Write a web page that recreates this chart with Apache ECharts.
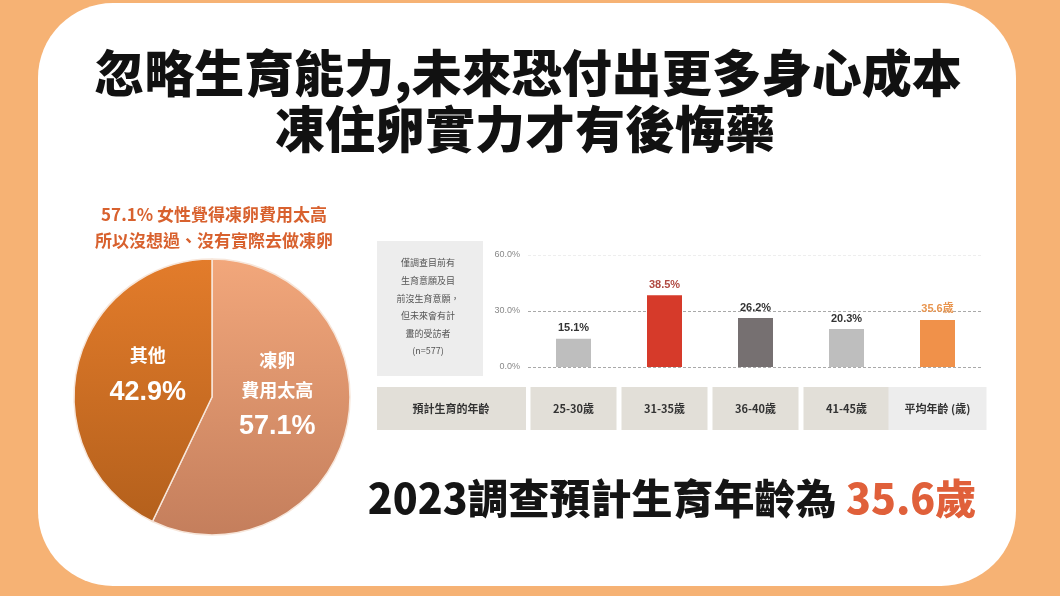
<!DOCTYPE html>
<html><head><meta charset="utf-8">
<script src="https://cdn.jsdelivr.net/npm/echarts@6/dist/echarts.min.js"></script>
<style>html,body{margin:0;padding:0;background:#F6B274;}#c{width:1060px;height:596px;}</style>
</head><body><div id="c"></div>
<script>
// ---- data ----
var pieNames = ['凍卵\n費用太高', '其他'];
var pieValues = [57.1, 42.9];
var barCategories = ['25-30歲', '31-35歲', '36-40歲', '41-45歲', '平均年齡 (歲)'];
var barValues = [15.1, 38.5, 26.2, 20.3, 25.2];
var barLabels = ['15.1%', '38.5%', '26.2%', '20.3%', '35.6歲'];
var yTicks = [0, 30, 60];
var noteLines = ['僅調查目前有', '生育意願及目', '前沒生育意願，', '但未來會有計', '畫的受訪者', '(n=577)'];

var barColors = ['#BEBEBE', '#D63A2A', '#767071', '#BEBEBE', '#F0914A'];
var barLabelColors = ['#333333', '#B04A42', '#333333', '#333333', '#E8954F'];
var CJK = '"Noto Sans CJK TC", "Noto Sans CJK SC", sans-serif';
var LAT = '"Liberation Sans", Arial, "Noto Sans CJK TC", sans-serif';

var chart = echarts.init(document.getElementById('c'));

function grad(c1, c2) {
  return new echarts.graphic.LinearGradient(0, 0, 0, 1, [{offset: 0, color: c1}, {offset: 1, color: c2}]);
}

var graphics = [
  {type: 'rect', z: -10, shape: {x: 38, y: 3, width: 978, height: 583, r: 75}, style: {fill: '#FFFFFF'}},
  {type: 'text', z: 5, style: {x: 528, y: 73, text: '忽略生育能力,未來恐付出更多身心成本', fill: '#111', font: '900 50px ' + CJK, textAlign: 'center', textVerticalAlign: 'middle'}},
  {type: 'text', z: 5, style: {x: 525, y: 129, text: '凍住卵實力才有後悔藥', fill: '#111', font: '900 50px ' + CJK, textAlign: 'center', textVerticalAlign: 'middle'}},
  {type: 'text', z: 5, style: {x: 214, y: 215, text: '57.1% 女性覺得凍卵費用太高', fill: '#D8612E', font: 'bold 17px ' + CJK, textAlign: 'center', textVerticalAlign: 'middle'}},
  {type: 'text', z: 5, style: {x: 214, y: 241, text: '所以沒想過、沒有實際去做凍卵', fill: '#D8612E', font: 'bold 17px ' + CJK, textAlign: 'center', textVerticalAlign: 'middle'}},
  {type: 'rect', z: 1, shape: {x: 377, y: 241, width: 106, height: 135}, style: {fill: '#EDEDED'}},
  {type: 'rect', z: 1, shape: {x: 377, y: 387, width: 149, height: 43}, style: {fill: '#E2DFD8'}},
  {type: 'text', z: 5, style: {x: 451, y: 409, text: '預計生育的年齡', fill: '#333', font: 'bold 11px ' + CJK, textAlign: 'center', textVerticalAlign: 'middle'}},
  {type: 'text', z: 5, style: {x: 672, y: 498, rich: {
      a: {fill: '#151515', font: '900 41px ' + CJK},
      b: {fill: '#E0603A', font: '900 41px ' + CJK}
    }, text: '{a|2023調查預計生育年齡為 }{b|35.6歲}', textAlign: 'center', textVerticalAlign: 'middle'}}
];
noteLines.forEach(function (t, i) {
  graphics.push({type: 'text', z: 5, style: {x: 428, y: 263 + i * 17.6, text: t, fill: '#555', font: '9px ' + CJK, textAlign: 'center', textVerticalAlign: 'middle'}});
});

var option = {
  backgroundColor: '#F6B274',
  animation: false,
  graphic: graphics,
  grid: {left: 528, right: 77, top: 255, bottom: 229, containLabel: false},
  xAxis: {
    type: 'category', data: barCategories,
    axisLine: {show: false}, axisTick: {show: false},
    axisLabel: {
      margin: 20, interval: 0,
      formatter: function (v, i) { return i === barCategories.length - 1 ? '{l|' + v + '}' : '{d|' + v + '}'; },
      rich: {
        d: {width: 86, height: 43, lineHeight: 43, align: 'center', backgroundColor: '#E2DFD8', color: '#333', fontSize: 11, fontWeight: 'bold', fontFamily: CJK},
        l: {width: 98, height: 43, lineHeight: 43, align: 'center', backgroundColor: '#EDEDED', color: '#333', fontSize: 11, fontWeight: 'bold', fontFamily: CJK}
      }
    }
  },
  yAxis: {
    type: 'value', min: 0, max: 60, interval: 30,
    axisLine: {show: false}, axisTick: {show: false},
    axisLabel: {formatter: function (v) { return v.toFixed(1) + '%'; }, color: '#888', fontSize: 9, fontFamily: LAT, margin: 8},
    splitLine: {lineStyle: {type: [3, 2], color: ['#A9A9A9', '#A9A9A9', '#EEEEEE'], width: 1}}
  },
  series: [
    {
      type: 'pie', center: [212, 397], radius: 138, startAngle: 90, clockwise: true,
      silent: true,
      data: pieNames.map(function (n, i) {
        return {
          name: n, value: pieValues[i],
          itemStyle: {color: i === 0 ? grad('#F2A77B', '#C47E5C') : grad('#E37C2B', '#B4601C'), borderColor: '#F7E6DA', borderWidth: 1.5}
        };
      }),
      label: {
        show: true, position: 'inside',
        formatter: function (p) { return '{n|' + p.name + '}\n{v|' + p.value.toFixed(1) + '%}'; },
        rich: {
          n: {color: '#fff', fontSize: 18, fontWeight: 'bold', fontFamily: CJK, lineHeight: 30, align: 'center'},
          v: {color: '#fff', fontSize: 27, fontWeight: 'bold', fontFamily: LAT, lineHeight: 44, align: 'center'}
        }
      },
      labelLayout: function (p) {
        return p.dataIndex === 0 ? {dx: -5, dy: -16} : {dx: 6, dy: -4};
      },
      labelLine: {show: false}
    },
    {
      type: 'bar', barWidth: 35,
      data: barValues.map(function (v, i) {
        return {
          value: v, itemStyle: {color: barColors[i]},
          label: {color: barLabelColors[i]}
        };
      }),
      label: {
        show: true, position: 'top', distance: 5,
        formatter: function (p) { return barLabels[p.dataIndex]; },
        fontSize: 11, fontWeight: 'bold', fontFamily: LAT
      }
    }
  ]
};
chart.setOption(option);
</script>
</body></html>
